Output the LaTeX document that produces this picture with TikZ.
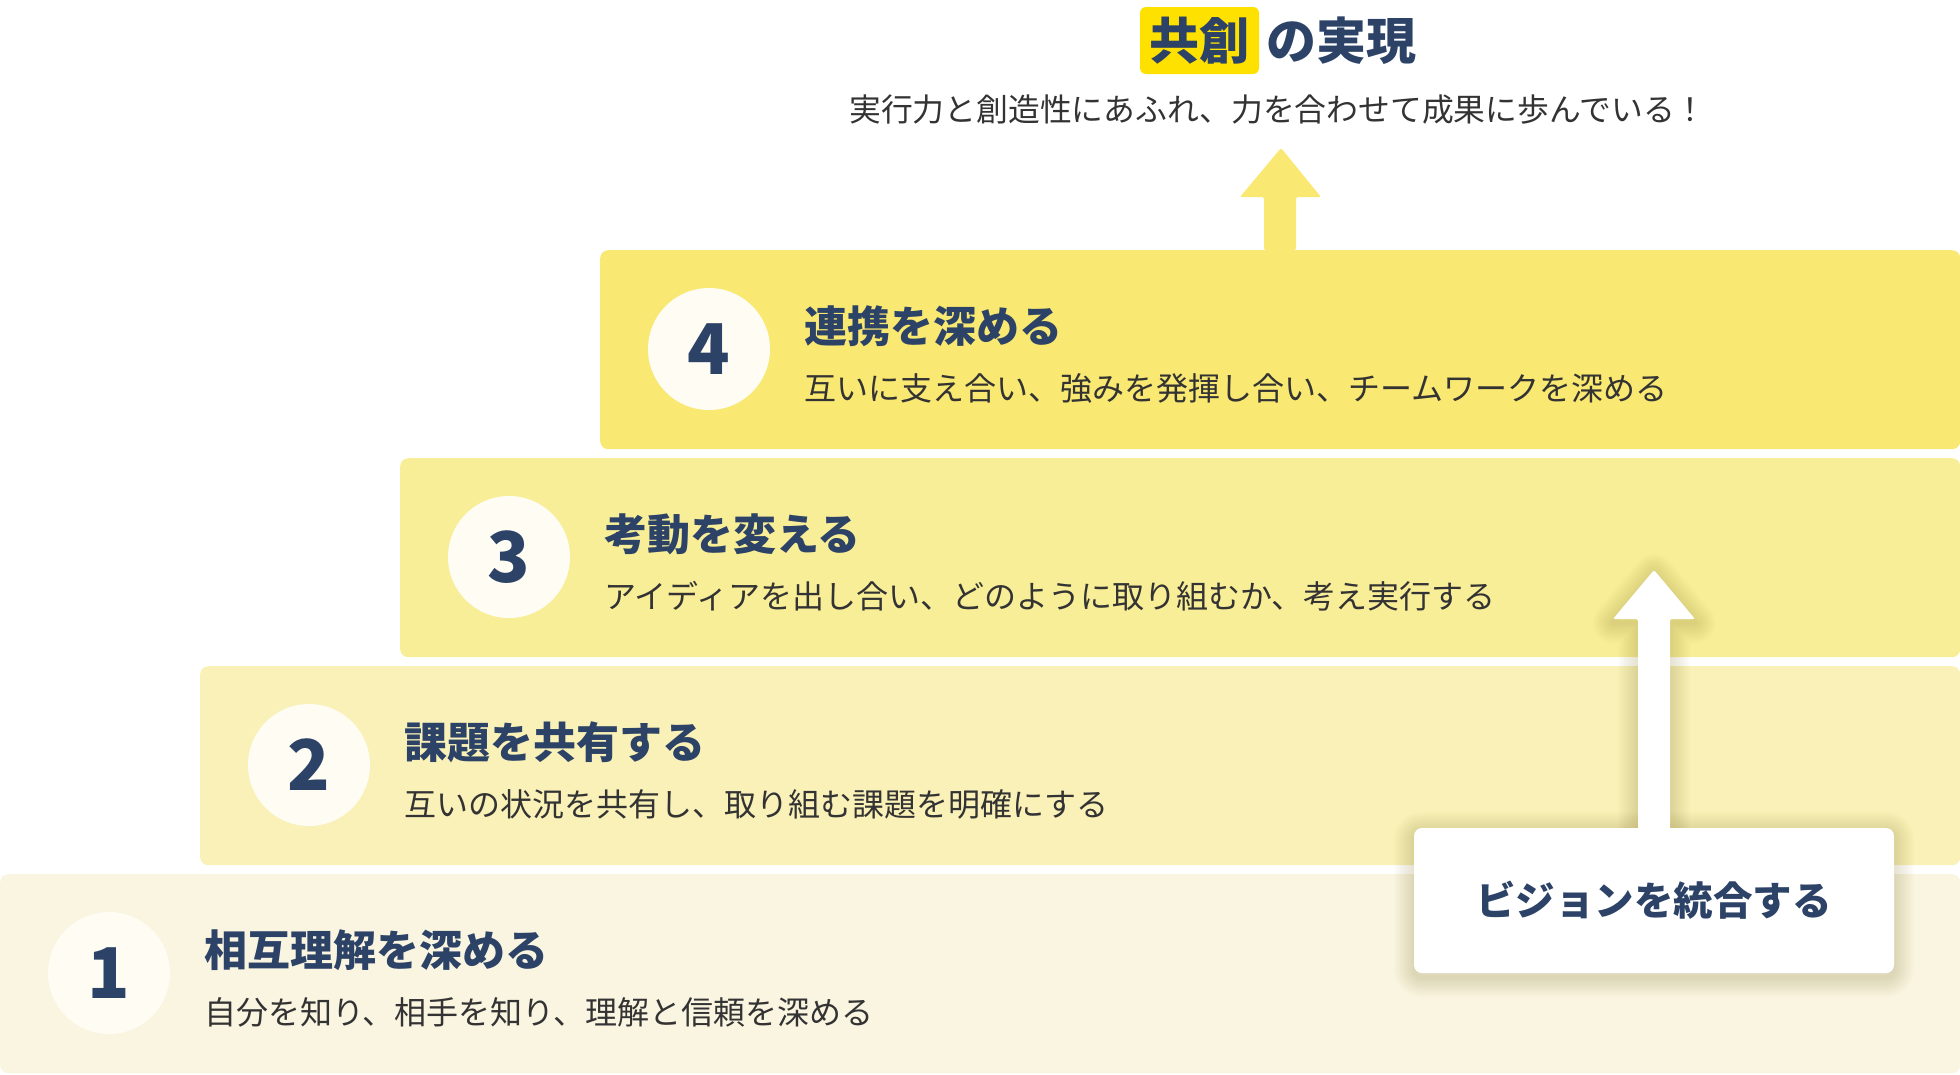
\documentclass[tikz,border=0pt]{standalone}
\usepackage{fontspec}
\setmainfont{Noto Sans CJK JP}
\usetikzlibrary{positioning}
\definecolor{navy}{HTML}{2C4266}
\definecolor{textgray}{HTML}{333333}
\definecolor{stepone}{HTML}{FAF5E1}
\definecolor{steptwo}{HTML}{F9F1B7}
\definecolor{stepthree}{HTML}{F9EE98}
\definecolor{stepfour}{HTML}{F9E871}
\definecolor{circlefill}{HTML}{FEFCF3}
\definecolor{highlight}{HTML}{FFE100}
\definecolor{shadowtone}{HTML}{8A7A30}
\newcommand{\visionarrow}{(1638,830) -- (1638,619) -- (1613,619) -- (1654,570)
        -- (1695,619) -- (1670,619) -- (1670,830) -- cycle}
\newcommand{\visionframe}{(1414,828) rectangle (1894,973)}
\tikzset{
  stepbox/.style={anchor=north west, minimum height=199pt, rounded corners=8pt, inner sep=0pt},
  numcircle/.style={circle, fill=circlefill, minimum size=122pt, inner sep=0pt, text=navy,
    font=\fontsize{70}{70}\selectfont\bfseries},
  steptitle/.style={anchor=west, inner sep=0pt, text=navy, font=\fontsize{43}{50}\selectfont\bfseries},
  stepsub/.style={anchor=west, inner sep=0pt, text=textgray, font=\fontsize{32}{36}\selectfont},
  shadowring/.style={shadowtone, opacity=0.022, line join=round, line width=#1, yshift=-4pt},
}
\begin{document}
\begin{tikzpicture}[x=1pt, y=-1pt]
    \useasboundingbox (0,0) rectangle (1960,1074);
    % steps
    \node[stepbox, fill=stepone, minimum width=1960pt] (s1) at (0,874) {};
    \node[stepbox, fill=steptwo, minimum width=1760pt] (s2) at (200,666) {};
    \node[stepbox, fill=stepthree, minimum width=1560pt] (s3) at (400,458) {};
    \node[stepbox, fill=stepfour, minimum width=1360pt] (s4) at (600,250) {};
    \node[numcircle] (n1) at (109,973) {1};
    \node[numcircle] (n2) at (309,765) {2};
    \node[numcircle] (n3) at (509,557) {3};
    \node[numcircle] (n4) at (709,349) {4};
    \node[steptitle] (t1) at (204,950) {相互理解を深める};
    \node[stepsub] (d1) at (204,1012) {自分を知り、相手を知り、理解と信頼を深める};
    \node[steptitle] (t2) at (404,742) {課題を共有する};
    \node[stepsub] (d2) at (404,804) {互いの状況を共有し、取り組む課題を明確にする};
    \node[steptitle] (t3) at (604,534) {考動を変える};
    \node[stepsub] (d3) at (604,596) {アイディアを出し合い、どのように取り組むか、考え実行する};
    \node[steptitle] (t4) at (804,326) {連携を深める};
    \node[stepsub] (d4) at (804,388) {互いに支え合い、強みを発揮し合い、チームワークを深める};
    % goal
    \node[fill=highlight, rounded corners=6pt, minimum width=119pt, minimum height=67pt, inner sep=0pt,
      text=navy, font=\fontsize{50}{56}\selectfont\bfseries] (hl) at (1199.5,40.5) {共創};
    \node[anchor=west, inner sep=0pt, text=navy, font=\fontsize{50}{56}\selectfont\bfseries] (goal) at (1266,41) {の実現};
    \node[inner sep=0pt, text=textgray, font=\fontsize{31.8}{36}\selectfont] (goalsub) at (1278,110) {実行力と創造性にあふれ、力を合わせて成果に歩んでいる！};
    \fill[stepfour, rounded corners=2pt] (1264,250) -- (1264,197) -- (1240,197) -- (1281,148)
        -- (1321,197) -- (1296,197) -- (1296,250) -- cycle;
    % vision, soft shadow first
    \foreach \w in {4,8,...,40} {
        \draw[shadowring=\w pt] \visionarrow;
        \draw[shadowring=\w pt, rounded corners=8pt] \visionframe;
    }
    \fill[white, rounded corners=2pt] \visionarrow;
    \node[fill=white, rounded corners=8pt, minimum width=480pt, minimum height=145pt, inner sep=0pt,
      text=navy, font=\fontsize{39.5}{44}\selectfont\bfseries] (vision) at (1654,900.5) {ビジョンを統合する};
\end{tikzpicture}
\end{document}
